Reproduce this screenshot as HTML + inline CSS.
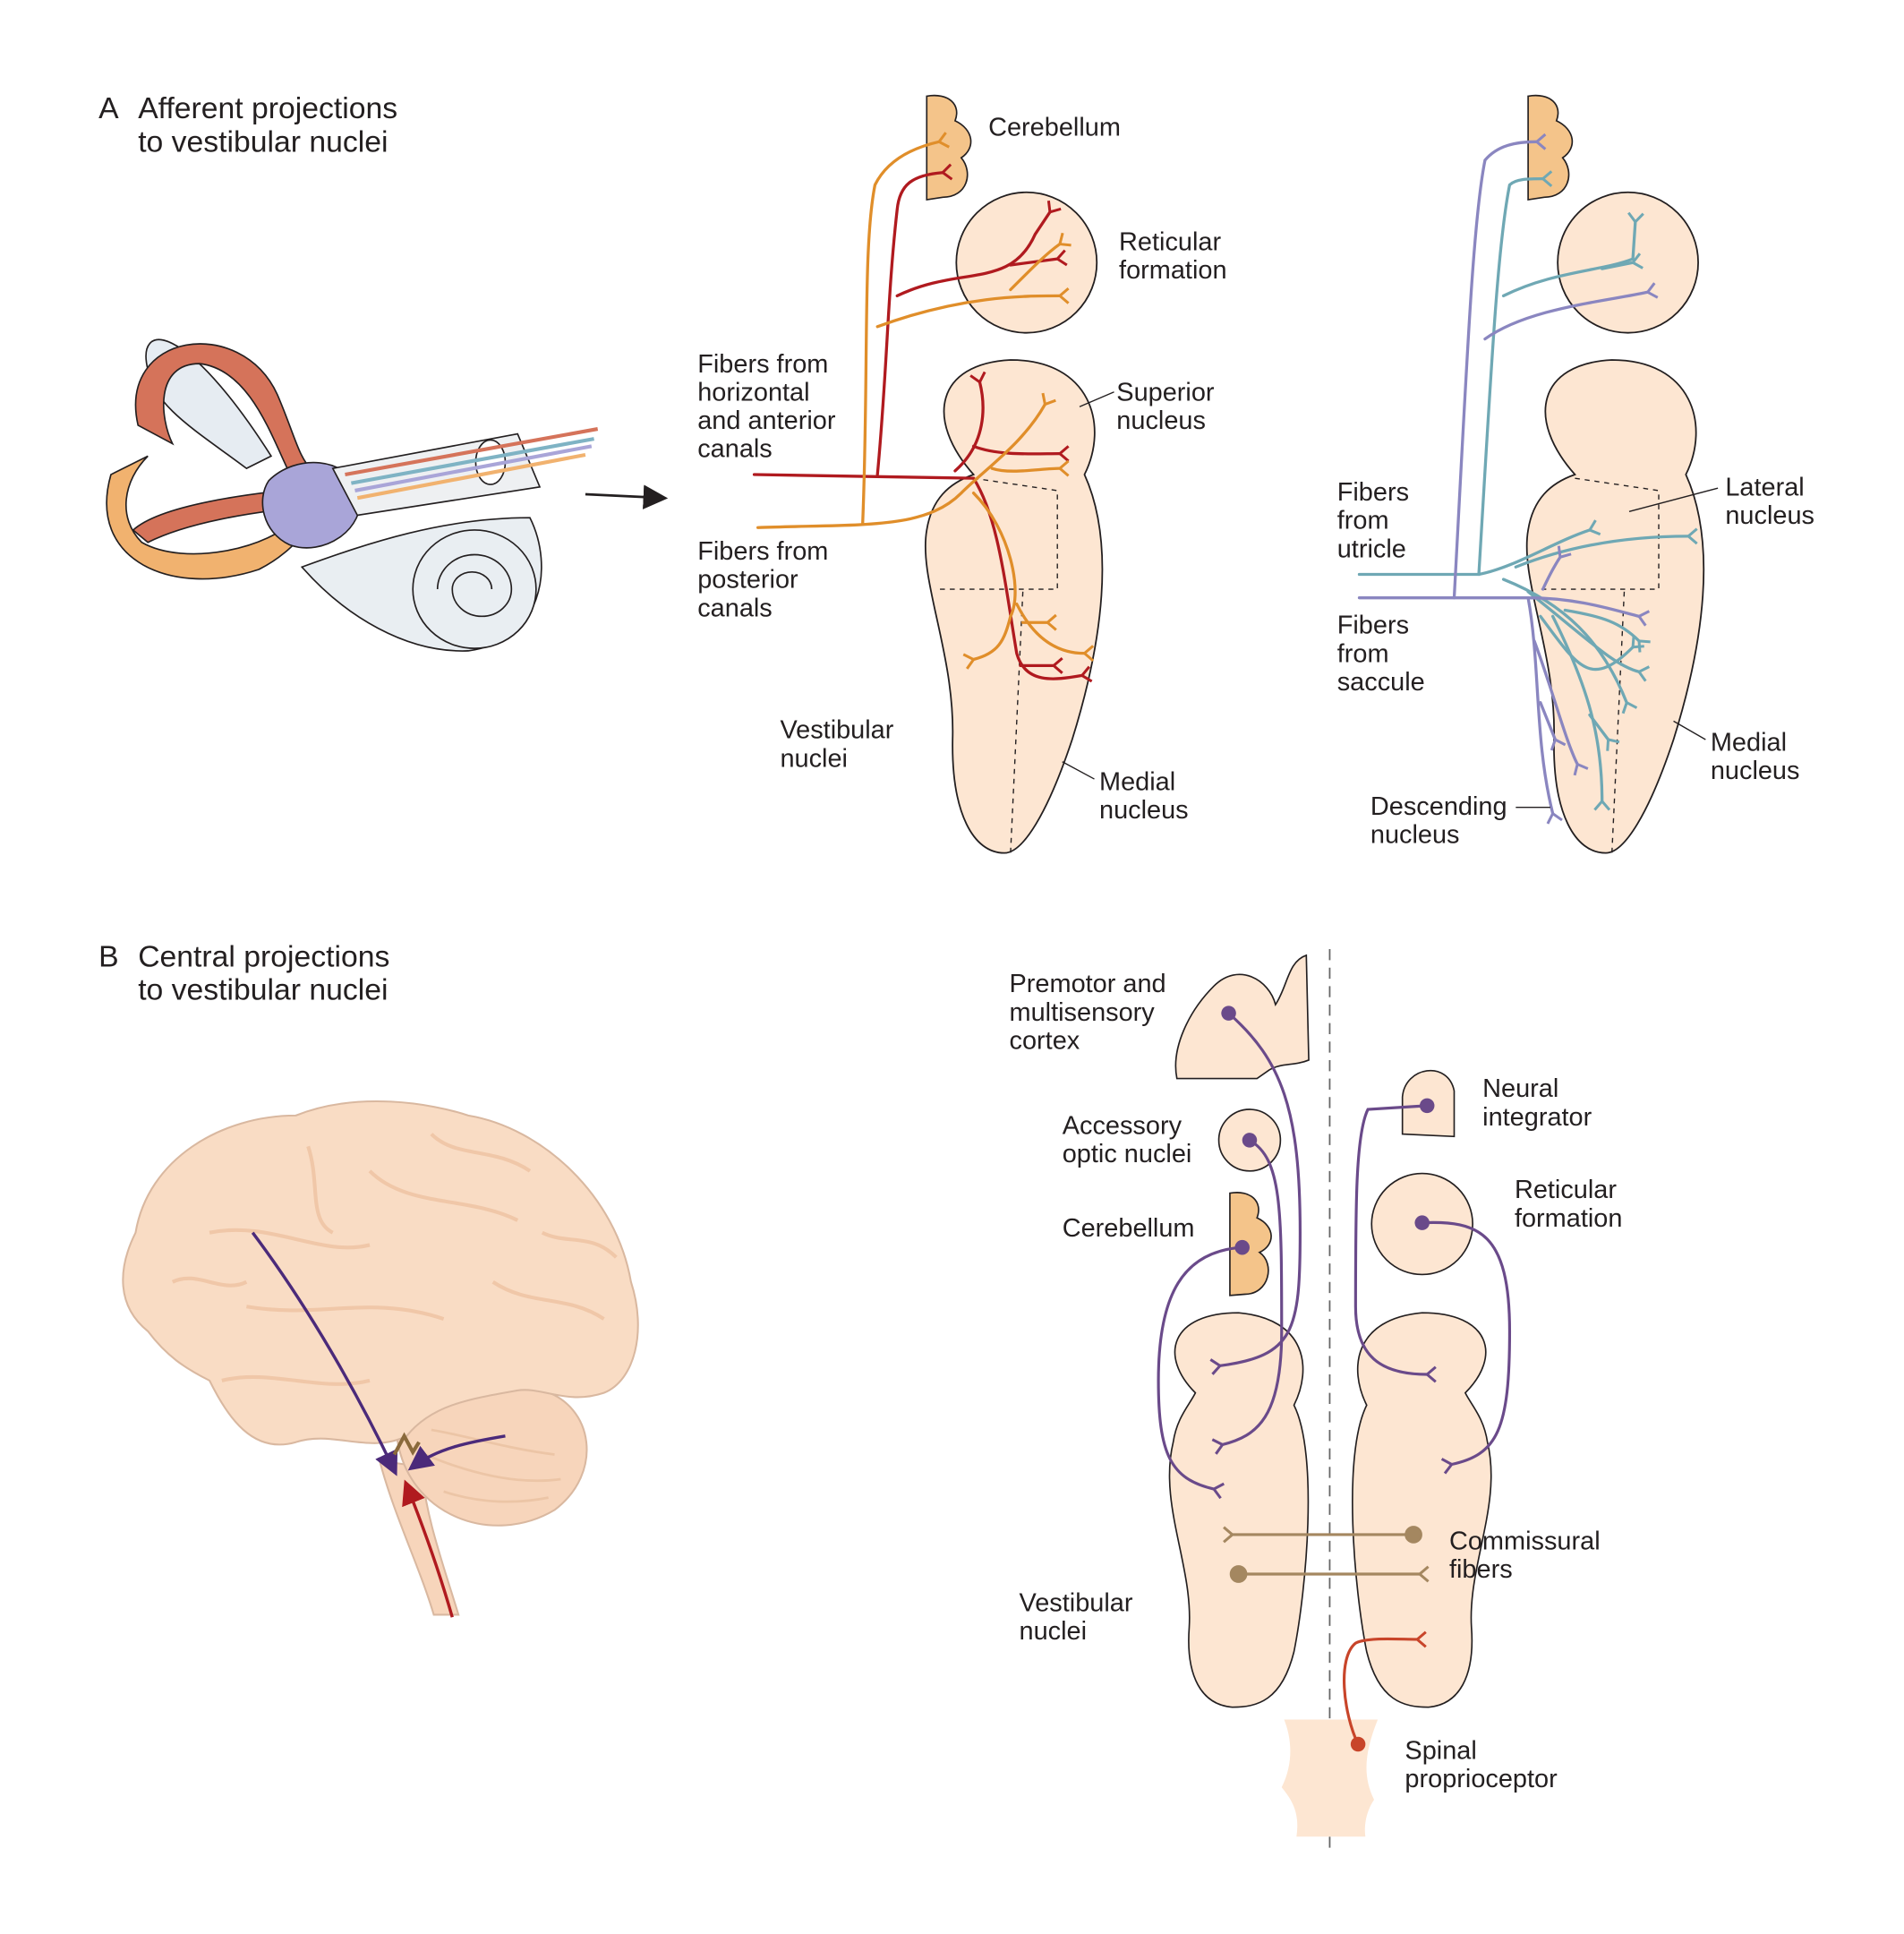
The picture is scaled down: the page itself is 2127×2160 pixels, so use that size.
<!DOCTYPE html>
<html><head><meta charset="utf-8"><style>
html,body{margin:0;padding:0;background:#fff}
svg{display:block}
text{font-family:"Liberation Sans",sans-serif;fill:#231f20;font-size:21px}
.t{font-size:24.5px}
</style></head><body>
<svg width="2127" height="2160" viewBox="0 0 1545 1569" xmlns="http://www.w3.org/2000/svg">
<defs>
<marker id="ah" markerWidth="10" markerHeight="10" refX="8" refY="5" orient="auto"><path d="M0,0 L10,5 L0,10 z" fill="#231f20"/></marker>
<marker id="ahp" markerWidth="8" markerHeight="8" refX="6" refY="4" orient="auto"><path d="M0,0 L8,4 L0,8 z" fill="#4b2a7a"/></marker>
<marker id="ahr" markerWidth="8" markerHeight="8" refX="6" refY="4" orient="auto"><path d="M0,0 L8,4 L0,8 z" fill="#b01a1f"/></marker>
<marker id="fr" markerUnits="userSpaceOnUse" markerWidth="20" markerHeight="20" refX="10" refY="10" orient="auto" overflow="visible"><path d="M17,4 L10,10 L17,16" fill="none" stroke="#b01a1f" stroke-width="2.2"/></marker>
<marker id="fo" markerUnits="userSpaceOnUse" markerWidth="20" markerHeight="20" refX="10" refY="10" orient="auto" overflow="visible"><path d="M17,4 L10,10 L17,16" fill="none" stroke="#e08e2a" stroke-width="2.2"/></marker>
<marker id="ft" markerUnits="userSpaceOnUse" markerWidth="20" markerHeight="20" refX="10" refY="10" orient="auto" overflow="visible"><path d="M17,4 L10,10 L17,16" fill="none" stroke="#6fa8b4" stroke-width="2.2"/></marker>
<marker id="fp" markerUnits="userSpaceOnUse" markerWidth="20" markerHeight="20" refX="10" refY="10" orient="auto" overflow="visible"><path d="M17,4 L10,10 L17,16" fill="none" stroke="#8a86c0" stroke-width="2.2"/></marker>
<marker id="fv" markerUnits="userSpaceOnUse" markerWidth="20" markerHeight="20" refX="10" refY="10" orient="auto" overflow="visible"><path d="M17,4 L10,10 L17,16" fill="none" stroke="#6a4a8a" stroke-width="2.2"/></marker>
<marker id="fb" markerUnits="userSpaceOnUse" markerWidth="20" markerHeight="20" refX="10" refY="10" orient="auto" overflow="visible"><path d="M17,4 L10,10 L17,16" fill="none" stroke="#a48760" stroke-width="2.2"/></marker>
<marker id="fc" markerUnits="userSpaceOnUse" markerWidth="20" markerHeight="20" refX="10" refY="10" orient="auto" overflow="visible"><path d="M17,4 L10,10 L17,16" fill="none" stroke="#c8452a" stroke-width="2.2"/></marker>
<g id="nuc">
<path d="M790,385 C750,340 760,295 820,292 C885,292 900,345 880,385 C905,440 895,520 870,600 C850,660 830,692 815,692 C790,692 772,660 773,600 C775,530 745,470 752,430 C756,405 770,392 790,385 Z" fill="#fde6d2" stroke="#231f20" stroke-width="1.3"/>
</g>
<path id="cb" d="M752,78 C770,75 780,85 775,98 C790,105 792,120 780,128 C790,140 785,160 765,160 L752,162 Z" fill="#f4c48a" stroke="#231f20" stroke-width="1.2"/>
</defs>

<text x="80" y="96" class="t">A</text>
<text x="112" y="96" class="t">Afferent projections</text>
<text x="112" y="123" class="t">to vestibular nuclei</text>

<!-- Ear illustration -->
<g stroke="#231f20" stroke-width="1.2">
<path d="M245,460 C300,440 360,420 430,420 C450,460 440,520 380,528 C330,530 280,500 245,460 Z" fill="#e9eef2"/>
<ellipse cx="385" cy="478" rx="50" ry="48" fill="#e9eef2"/>
<path d="M385,478 m-30,0 a30,28 0 1,1 60,0 a24,22 0 1,1 -48,0 a16,14 0 1,1 32,0" fill="none"/>
<path d="M120,300 C110,260 150,260 220,370 L200,380 C160,350 125,330 120,300Z" fill="#e6ecf2"/>
<path d="M112,345 C95,270 195,255 225,320 C238,350 242,370 252,380 L238,390 C222,360 205,300 162,295 C125,295 130,340 140,360 Z" fill="#d5735a"/>
<path d="M108,430 C130,410 200,400 260,395 L262,410 C200,415 150,425 120,440 Z" fill="#d5735a"/>
<path d="M90,385 C70,455 140,485 210,462 C230,452 240,440 250,430 L240,420 C220,445 150,460 115,440 C95,420 100,390 120,370 Z" fill="#f1b26f"/>
<path d="M218,390 C240,368 282,370 292,400 C297,430 262,452 235,442 C213,432 208,405 218,390Z" fill="#a9a5d8"/>
<path d="M270,380 L420,352 L438,395 L290,418 Z" fill="#eef0f2"/>
<ellipse cx="398" cy="375" rx="12" ry="18" fill="#fff"/>
</g>
<path d="M280,385 L485,348" stroke="#d5735a" stroke-width="3" fill="none"/>
<path d="M285,392 L482,356" stroke="#7fb3c4" stroke-width="3" fill="none"/>
<path d="M288,398 L480,362" stroke="#a9a5d8" stroke-width="3" fill="none"/>
<path d="M290,404 L475,369" stroke="#f1b26f" stroke-width="3" fill="none"/>
<line x1="475" y1="401" x2="538" y2="404" stroke="#231f20" stroke-width="2" marker-end="url(#ah)"/>

<!-- Middle diagram -->
<use href="#cb"/>
<circle cx="833" cy="213" r="57" fill="#fde6d2" stroke="#231f20" stroke-width="1.3"/>
<use href="#nuc"/>
<path d="M790,388 L858,398 L858,478 L760,478" stroke="#231f20" stroke-dasharray="4,4" fill="none"/>
<path d="M830,480 L820,692" stroke="#231f20" stroke-dasharray="4,4" fill="none"/>
<g fill="none" stroke-width="2.4" stroke-linecap="round">
<g stroke="#b01a1f">
<path d="M612,385 L790,388 C810,420 815,470 825,530 C832,555 855,552 878,548" marker-end="url(#fr)"/>
<path d="M712,385 C720,300 720,240 728,170 C730,150 740,142 765,140" marker-end="url(#fr)"/>
<path d="M728,240 C780,215 820,235 840,190 L852,172" marker-end="url(#fr)"/>
<path d="M820,215 L858,210" marker-end="url(#fr)"/>
<path d="M775,382 C800,360 800,330 795,310" marker-end="url(#fr)"/>
<path d="M790,362 C810,370 840,368 860,368" marker-end="url(#fr)"/>
<path d="M828,540 L855,540" marker-end="url(#fr)"/>
</g>
<g stroke="#e08e2a">
<path d="M615,428 C700,425 750,430 780,400 C800,380 830,360 848,328" marker-end="url(#fo)"/>
<path d="M805,380 C820,385 845,380 860,380" marker-end="url(#fo)"/>
<path d="M700,425 C705,300 700,200 710,150 C720,130 740,120 762,115" marker-end="url(#fo)"/>
<path d="M712,265 C780,240 830,240 860,240" marker-end="url(#fo)"/>
<path d="M820,235 C840,215 850,205 860,198" marker-end="url(#fo)"/>
<path d="M790,400 C820,430 830,480 820,500 C815,520 810,530 790,535" marker-end="url(#fo)"/>
<path d="M825,490 C840,520 860,530 880,530" marker-end="url(#fo)"/>
<path d="M830,505 L850,505" marker-end="url(#fo)"/>
</g>
</g>
<text x="802" y="110">Cerebellum</text>
<text x="908" y="203">Reticular</text><text x="908" y="226">formation</text>
<text x="566" y="302">Fibers from</text><text x="566" y="325">horizontal</text><text x="566" y="348">and anterior</text><text x="566" y="371">canals</text>
<text x="906" y="325">Superior</text><text x="906" y="348">nucleus</text>
<line x1="876" y1="330" x2="904" y2="318" stroke="#231f20"/>
<text x="566" y="454">Fibers from</text><text x="566" y="477">posterior</text><text x="566" y="500">canals</text>
<text x="633" y="599">Vestibular</text><text x="633" y="622">nuclei</text>
<text x="892" y="641">Medial</text><text x="892" y="664">nucleus</text>
<line x1="862" y1="618" x2="888" y2="632" stroke="#231f20"/>

<!-- Right diagram -->
<g transform="translate(488,0)">
<use href="#cb"/>
<circle cx="833" cy="213" r="57" fill="#fde6d2" stroke="#231f20" stroke-width="1.3"/>
<use href="#nuc"/>
<path d="M790,388 L858,398 L858,478 L760,478" stroke="#231f20" stroke-dasharray="4,4" fill="none"/>
<path d="M830,480 L820,692" stroke="#231f20" stroke-dasharray="4,4" fill="none"/>
</g>
<g fill="none" stroke-width="2.4" stroke-linecap="round">
<g stroke="#6fa8b4">
<path d="M1103,466 L1200,466 C1230,460 1260,440 1290,430" marker-end="url(#ft)"/>
<path d="M1230,460 C1280,440 1330,435 1370,435" marker-end="url(#ft)"/>
<path d="M1200,466 C1210,300 1215,200 1225,150 C1230,145 1240,145 1252,145" marker-end="url(#ft)"/>
<path d="M1220,240 C1260,220 1300,220 1325,210 L1327,180" marker-end="url(#ft)"/>
<path d="M1300,218 L1325,213" marker-end="url(#ft)"/>
<path d="M1220,470 C1270,490 1300,520 1320,570" marker-end="url(#ft)"/>
<path d="M1240,480 C1290,520 1310,540 1330,545" marker-end="url(#ft)"/>
<path d="M1260,500 C1290,560 1300,600 1300,650" marker-end="url(#ft)"/>
<path d="M1250,500 C1280,540 1290,560 1325,525" marker-end="url(#ft)"/>
<path d="M1270,495 C1300,500 1315,505 1330,520" marker-end="url(#ft)"/>
<path d="M1290,580 L1305,600" marker-end="url(#ft)"/>
</g>
<g stroke="#8a86c0">
<path d="M1103,485 L1240,485 C1280,485 1310,495 1330,500" marker-end="url(#fp)"/>
<path d="M1180,485 C1190,300 1195,180 1205,130 C1215,118 1230,115 1247,115" marker-end="url(#fp)"/>
<path d="M1205,275 C1240,250 1300,245 1337,237" marker-end="url(#fp)"/>
<path d="M1240,485 C1250,540 1245,600 1260,660" marker-end="url(#fp)"/>
<path d="M1245,520 C1260,560 1270,600 1280,620" marker-end="url(#fp)"/>
<path d="M1252,478 C1258,465 1262,458 1266,452" marker-end="url(#fp)"/>
<path d="M1250,570 L1262,600" marker-end="url(#fp)"/>
</g>
</g>
<text x="1085" y="406">Fibers</text><text x="1085" y="429">from</text><text x="1085" y="452">utricle</text>
<text x="1085" y="514">Fibers</text><text x="1085" y="537">from</text><text x="1085" y="560">saccule</text>
<text x="1400" y="402">Lateral</text><text x="1400" y="425">nucleus</text>
<line x1="1322" y1="415" x2="1394" y2="396" stroke="#231f20"/>
<text x="1388" y="609">Medial</text><text x="1388" y="632">nucleus</text>
<line x1="1358" y1="585" x2="1384" y2="600" stroke="#231f20"/>
<text x="1112" y="661">Descending</text><text x="1112" y="684">nucleus</text>
<line x1="1230" y1="655" x2="1258" y2="655" stroke="#231f20"/>

<text x="80" y="784" class="t">B</text>
<text x="112" y="784" class="t">Central projections</text>
<text x="112" y="811" class="t">to vestibular nuclei</text>

<!-- brain -->
<g stroke="#d9b8a0" stroke-width="1.5">
<path d="M308,1185 C320,1230 340,1270 352,1310 L372,1310 C360,1270 345,1230 342,1190 Z" fill="#f7d5bb"/>
<path d="M322,1165 C330,1230 400,1255 450,1225 C490,1195 482,1140 440,1128 C400,1120 340,1130 322,1165Z" fill="#f7d5bb"/>
<path d="M110,1000 C120,940 180,905 240,905 C290,885 350,895 380,905 C440,915 500,970 512,1040 C525,1080 515,1120 490,1130 C460,1140 440,1125 420,1128 C380,1135 350,1140 330,1165 C300,1180 270,1160 240,1170 C205,1180 185,1150 170,1120 C150,1110 135,1100 120,1080 C95,1060 95,1030 110,1000Z" fill="#f9dcc4"/>
</g>
<g stroke="#f0c7a8" stroke-width="3" fill="none">
<path d="M170,1000 C220,990 260,1020 300,1010 M200,1060 C260,1070 300,1050 360,1070 M300,950 C330,980 380,970 420,990 M400,1040 C430,1060 460,1050 490,1070 M180,1120 C220,1110 260,1130 300,1120 M250,930 C260,960 250,990 270,1000 M140,1040 C160,1030 180,1050 200,1040 M350,920 C370,940 400,930 430,950 M440,1000 C460,1010 480,1000 500,1020"/>
<path d="M350,1160 C380,1165 410,1175 450,1180 M345,1180 C380,1195 420,1205 455,1200 M360,1210 C390,1220 420,1220 445,1215" stroke="#ecc5a6" stroke-width="2"/>
</g>
<path d="M205,1000 C250,1060 290,1130 320,1193" stroke="#4b2a7a" stroke-width="2.5" fill="none" marker-end="url(#ahp)"/>
<path d="M410,1165 C380,1170 355,1175 335,1190" stroke="#4b2a7a" stroke-width="2.5" fill="none" marker-end="url(#ahp)"/>
<path d="M367,1312 C355,1270 340,1230 330,1205" stroke="#b01a1f" stroke-width="2.5" fill="none" marker-end="url(#ahr)"/>
<path d="M320,1180 L328,1165 L335,1178 L340,1170" stroke="#8a6a3c" stroke-width="3" fill="none"/>

<!-- B right diagram -->
<line x1="1079" y1="770" x2="1079" y2="1505" stroke="#666" stroke-dasharray="9,6" stroke-width="1.3"/>
<path d="M955,875 C950,850 965,820 985,800 C1005,780 1030,795 1035,815 C1045,800 1045,780 1060,775 L1062,860 C1050,865 1040,862 1030,868 L1020,875 Z" fill="#fde6d2" stroke="#231f20" stroke-width="1.2"/>
<path d="M1138,920 L1138,890 C1140,865 1175,860 1180,885 L1180,922 Z" fill="#fde6d2" stroke="#231f20" stroke-width="1.2"/>
<circle cx="1014" cy="925" r="25" fill="#fde6d2" stroke="#231f20" stroke-width="1.2"/>
<circle cx="1154" cy="993" r="41" fill="#fde6d2" stroke="#231f20" stroke-width="1.2"/>
<path d="M998,968 C1015,965 1025,975 1020,988 C1035,995 1035,1010 1022,1016 C1035,1025 1030,1050 1010,1050 L998,1051 Z" fill="#f4c48a" stroke="#231f20" stroke-width="1.2"/>
<path d="M970,1130 C940,1100 950,1065 1005,1065 C1060,1070 1065,1110 1050,1140 C1070,1180 1060,1290 1050,1340 C1040,1380 1020,1385 1000,1385 C975,1383 962,1360 965,1320 C968,1270 940,1220 952,1170 C955,1150 965,1140 970,1130Z" fill="#fde6d2" stroke="#231f20" stroke-width="1.2"/>
<g transform="translate(2159,0) scale(-1,1)">
<path d="M970,1130 C940,1100 950,1065 1005,1065 C1060,1070 1065,1110 1050,1140 C1070,1180 1060,1290 1050,1340 C1040,1380 1020,1385 1000,1385 C975,1383 962,1360 965,1320 C968,1270 940,1220 952,1170 C955,1150 965,1140 970,1130Z" fill="#fde6d2" stroke="#231f20" stroke-width="1.2"/>
</g>
<path d="M1042,1395 L1118,1395 C1108,1420 1105,1440 1115,1460 C1105,1475 1108,1490 1108,1490 L1052,1490 C1055,1470 1048,1460 1040,1450 C1050,1430 1048,1410 1042,1395Z" fill="#fde6d2"/>
<g fill="none" stroke="#6a4a8a" stroke-width="2.3">
<path d="M997,822 C1040,860 1055,900 1055,1000 C1055,1080 1050,1100 990,1108" marker-end="url(#fv)"/>
<path d="M1014,925 C1040,940 1040,980 1040,1080 C1040,1150 1020,1165 992,1172" marker-end="url(#fv)"/>
<path d="M1008,1012 C960,1015 940,1050 940,1120 C940,1180 950,1200 985,1208" marker-end="url(#fv)"/>
<path d="M1158,897 L1110,900 C1100,920 1100,980 1100,1060 C1100,1100 1120,1115 1158,1115" marker-end="url(#fv)"/>
<path d="M1154,992 C1200,990 1225,1000 1225,1080 C1225,1160 1215,1180 1178,1188" marker-end="url(#fv)"/>
</g>
<g fill="#6a4a8a"><circle cx="997" cy="822" r="6"/><circle cx="1014" cy="925" r="6"/><circle cx="1008" cy="1012" r="6"/><circle cx="1158" cy="897" r="6"/><circle cx="1154" cy="992" r="6"/></g>
<g stroke="#a48760" stroke-width="2.3" fill="#a48760">
<line x1="1147" y1="1245" x2="1000" y2="1245" marker-end="url(#fb)"/><circle cx="1147" cy="1245" r="6"/>
<line x1="1005" y1="1277" x2="1152" y2="1277" marker-end="url(#fb)"/><circle cx="1005" cy="1277" r="6"/>
</g>
<path d="M1102,1415 C1090,1390 1085,1345 1100,1333 C1110,1328 1135,1330 1150,1330" stroke="#c8452a" stroke-width="2.3" fill="none" marker-end="url(#fc)"/>
<circle cx="1102" cy="1415" r="6" fill="#c8452a"/>
<text x="819" y="805">Premotor and</text><text x="819" y="828">multisensory</text><text x="819" y="851">cortex</text>
<text x="862" y="920">Accessory</text><text x="862" y="943">optic nuclei</text>
<text x="862" y="1003">Cerebellum</text>
<text x="1203" y="890">Neural</text><text x="1203" y="913">integrator</text>
<text x="1229" y="972">Reticular</text><text x="1229" y="995">formation</text>
<text x="1176" y="1257">Commissural</text><text x="1176" y="1280">fibers</text>
<text x="827" y="1307">Vestibular</text><text x="827" y="1330">nuclei</text>
<text x="1140" y="1427">Spinal</text><text x="1140" y="1450">proprioceptor</text>
</svg>
</body></html>
